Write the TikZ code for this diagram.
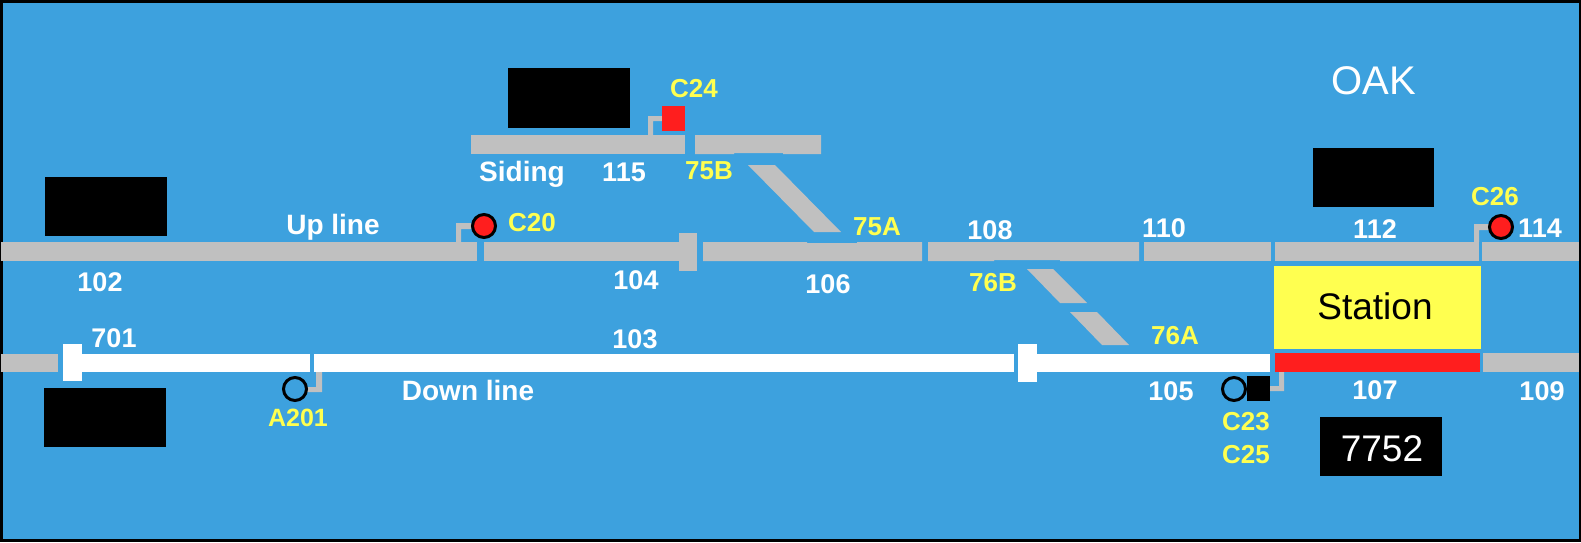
\documentclass[tikz,border=0pt]{standalone}
\usepackage{fontspec}
\setmainfont{Liberation Sans}
\definecolor{panel}   {RGB}{61, 161, 222}
\definecolor{railgrey}{RGB}{192, 192, 192}
\definecolor{signred} {RGB}{255, 30, 30}
\definecolor{labelyel}{RGB}{255, 255, 80}
\tikzset{
  numlabel/.style={text=white, inner sep=0pt, font=\fontsize{13.5}{14}\selectfont\bfseries},
  linename/.style={text=white, inner sep=0pt, font=\fontsize{14}{14}\selectfont\bfseries},
  tcname/.style={text=labelyel, inner sep=0pt, font=\fontsize{13}{13}\selectfont\bfseries},
  bigname/.style={inner sep=0pt, font=\fontsize{18.5}{19}\selectfont},
  signalcirc/.style={draw=black, line width=1.5pt}
}
\begin{document}
\begin{tikzpicture}[x=0.5pt, y=-0.5pt]
  % panel
  \fill[black] (0,0) rectangle (1581,542);
  \fill[panel] (3,3) rectangle (1579,539);
  % up line
  \fill[railgrey] (1,242) rectangle (477,261);
  \fill[railgrey] (484,242) rectangle (679,261);
  \fill[railgrey] (679,233) rectangle (697,271);
  \fill[railgrey] (703,242) -- (807,242) -- (807,243) -- (857,243) -- (857,242)
    -- (922,242) -- (922,261) -- (703,261) -- cycle;
  \fill[railgrey] (928,242) -- (1139,242) -- (1139,261) -- (1060,261) -- (1060,260)
    -- (994,260) -- (994,261) -- (928,261) -- cycle;
  \fill[railgrey] (1144,242) rectangle (1271,261);
  \fill[railgrey] (1275,242) rectangle (1479,261);
  \fill[railgrey] (1482,242) rectangle (1579,261);
  % siding
  \fill[railgrey] (471,135) rectangle (685,154);
  \fill[railgrey] (695,135) -- (821,135) -- (821,154) -- (783,154) -- (783,153)
    -- (734,153) -- (734,154) -- (695,154) -- cycle;
  % points
  \fill[railgrey] (748,165) -- (775,165) -- (841,232) -- (814,232) -- cycle;
  \fill[railgrey] (1027,269) -- (1053,269) -- (1087,303) -- (1060,303) -- cycle;
  \fill[railgrey] (1070,312) -- (1097,312) -- (1129,345) -- (1102,345) -- cycle;
  % down line
  \fill[railgrey] (1,354) rectangle (58,372);
  \fill[white] (63,344) rectangle (82,381);
  \fill[white] (82,354) rectangle (310,372);
  \fill[white] (314,354) rectangle (1014,372);
  \fill[white] (1018,344) rectangle (1037,382);
  \fill[white] (1037,354) rectangle (1270,372);
  \fill[signred] (1275,353) rectangle (1480,372);
  \fill[railgrey] (1483,353) rectangle (1579,372);
  % signal posts
  \fill[railgrey] (456,242) |- (471,223) |- (461,229) -- (461,242) -- cycle;
  \fill[railgrey] (648,135) |- (662,116) |- (653,121) -- (653,135) -- cycle;
  \fill[railgrey] (1474,242) |- (1490,224) |- (1479,230) -- (1479,242) -- cycle;
  \fill[railgrey] (316,372) -- (322,372) -- (322,392) -- (306,392) -- (306,387)
    -- (316,387) -- cycle;
  \fill[railgrey] (1279,372) -- (1284,372) -- (1284,391) -- (1269,391) -- (1269,386)
    -- (1279,386) -- cycle;
  % signals
  \draw[signalcirc, fill=signred] (484,226) circle (11.5);
  \draw[signalcirc, fill=signred] (1501,227) circle (11.5);
  \fill[signred] (662,106) rectangle (685,131);
  \draw[signalcirc] (295,389) circle (11.5);
  \draw[signalcirc] (1234,389) circle (11.5);
  \fill[black] (1247,376) rectangle (1270,401);
  % masked boxes
  \fill[black] (508,68) rectangle (630,128);
  \fill[black] (45,177) rectangle (167,236);
  \fill[black] (1313,148) rectangle (1434,207);
  \fill[black] (44,388) rectangle (166,447);
  % station
  \fill[labelyel] (1274,266) rectangle (1481,349);
  \node[bigname, text=black] (station) at (1375,306) {Station};
  \fill[black] (1320,417) rectangle (1442,476);
  \node[bigname, text=white] (headcode) at (1382,449) {7752};
  \node[bigname, text=white, font=\fontsize{20}{20}\selectfont] (oak) at (1374,81) {OAK};
  % track circuit numbers
  \node[numlabel] (t102) at (100,282) {102};
  \node[numlabel] (t104) at (636,280) {104};
  \node[numlabel] (t106) at (828,284) {106};
  \node[numlabel] (t108) at (990,230) {108};
  \node[numlabel] (t110) at (1164,228) {110};
  \node[numlabel] (t112) at (1375,229) {112};
  \node[numlabel] (t114) at (1540,228) {114};
  \node[numlabel] (t115) at (624,172) {115};
  \node[numlabel] (t701) at (114,338) {701};
  \node[numlabel] (t103) at (635,339) {103};
  \node[numlabel] (t105) at (1171,391) {105};
  \node[numlabel] (t107) at (1375,390) {107};
  \node[numlabel] (t109) at (1542,391) {109};
  \node[linename] (upline) at (333,227) {Up line};
  \node[linename] (downline) at (468,390) {Down line};
  \node[linename] (siding) at (522,174) {Siding};
  % signal and point names
  \node[tcname] (c20) at (532,223) {C20};
  \node[tcname] (c24) at (694,89) {C24};
  \node[tcname] (c26) at (1495,197) {C26};
  \node[tcname] (c23) at (1246,422) {C23};
  \node[tcname] (c25) at (1246,455) {C25};
  \node[tcname, font=\fontsize{12.5}{13}\selectfont\bfseries] (a201) at (298,418) {A201};
  \node[tcname] (p75a) at (877,227) {75A};
  \node[tcname] (p75b) at (709,171) {75B};
  \node[tcname] (p76a) at (1175,336) {76A};
  \node[tcname] (p76b) at (993,283) {76B};
\end{tikzpicture}
\end{document}
